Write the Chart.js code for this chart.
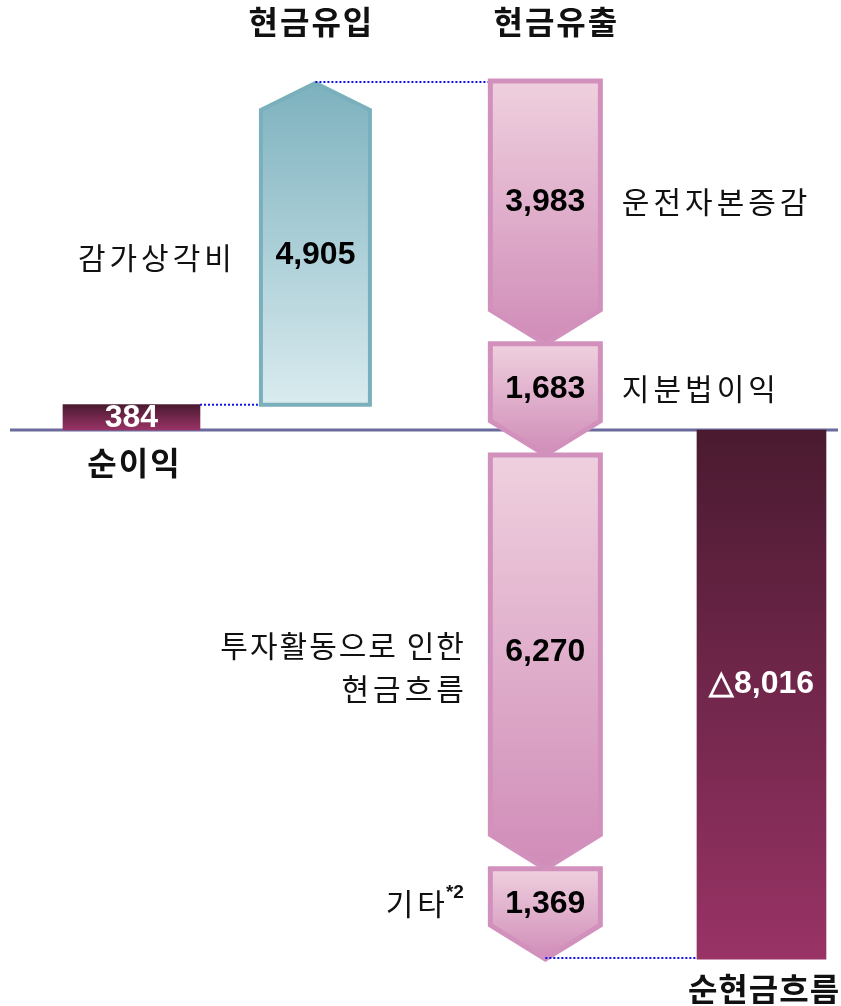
<!DOCTYPE html>
<html>
<head>
<meta charset="utf-8">
<script src="https://cdn.jsdelivr.net/npm/chart.js@4.4.1/dist/chart.umd.min.js"></script>
<style>
  html, body { margin: 0; padding: 0; background: #fff; }
  #wrap { width: 841px; height: 1006px; }
</style>
</head>
<body>
<div id="wrap"><canvas id="cashChart"></canvas></div>
<script>
// cash flow waterfall: 순이익 -> 유입 -> 유출 -> 순현금흐름
const columns = ['순이익', '현금유입', '현금유출', '순현금흐름'];
const items = ['순이익', '감가상각비', '운전자본증감', '지분법이익', '투자활동으로 인한\n현금흐름', '기타', '순현금흐름'];
const amounts = [384, 4905, -3983, -1683, -6270, -1369, -8016];
const valueLabels = ['384', '4,905', '3,983', '1,683', '6,270', '1,369', '△8,016'];
const itemColumn = [0, 1, 2, 2, 2, 2, 3];
const footnote = '*2';

// layout (not data): column slots on the hidden x scale, bar widths in px
const colSlot = [0, 40, 90, 137];
const barWidth = [137, 113, 115, 129];
const KR = '"Noto Sans CJK KR", "Noto Sans", sans-serif';
const NUM = '"Liberation Sans", Arial, sans-serif';

// running totals -> floating ranges, last item is the total from zero
let acc = 0;
const ranges = amounts.map((v, i) => {
  if (i === amounts.length - 1) return [0, v];
  const r = [acc, acc + v];
  acc += v;
  return r;
});

function darkGradient(chart, r) {
  const y = chart.scales.y;
  if (!y) return '#7a2a50';
  const top = y.getPixelForValue(Math.max(...r));
  const bot = y.getPixelForValue(Math.min(...r));
  if (!isFinite(top) || !isFinite(bot) || top === bot) return '#7a2a50';
  const g = chart.ctx.createLinearGradient(0, top, 0, bot);
  g.addColorStop(0, '#4a1a30');
  g.addColorStop(1, '#993366');
  return g;
}

function txt(ctx, s, x, y, font, color, align, spacing) {
  ctx.save();
  ctx.font = font;
  ctx.fillStyle = color;
  ctx.textAlign = align || 'center';
  ctx.textBaseline = 'middle';
  if (spacing) {
    ctx.letterSpacing = spacing + 'px';
    // canvas adds trailing spacing, shift so the glyphs stay where intended
    if (!align || align === 'center') x += spacing / 2;
    else if (align === 'right') x += spacing;
  }
  ctx.fillText(s, x, y);
  ctx.restore();
}

function dotted(ctx, x1, x2, y) {
  ctx.save();
  ctx.strokeStyle = '#1010ee';
  ctx.lineWidth = 2;
  ctx.setLineDash([2, 2]);
  ctx.beginPath();
  ctx.moveTo(x1, y);
  ctx.lineTo(x2, y);
  ctx.stroke();
  ctx.restore();
}

const arrowsPlugin = {
  id: 'arrows',
  beforeDatasetsDraw(chart) {
    const { ctx, chartArea, scales } = chart;
    const y0 = scales.y.getPixelForValue(0);
    ctx.save();
    ctx.strokeStyle = '#6a6a9c';
    ctx.lineWidth = 3;
    ctx.beginPath();
    ctx.moveTo(chartArea.left + 10, y0);
    ctx.lineTo(chartArea.right - 3, y0);
    ctx.stroke();
    ctx.restore();
  },
  afterDatasetsDraw(chart) {
    const { ctx, scales } = chart;
    const ys = scales.y;
    const el = i => chart.getDatasetMeta(i).data[0];
    const last = items.length - 1;

    // arrows for the middle steps
    for (let i = 1; i < last; i++) {
      const e = el(i);
      const up = amounts[i] > 0;
      const lw = up ? 4 : 5;
      const l = e.x - e.width / 2 + lw / 2, r = e.x + e.width / 2 - lw / 2;
      const yStart = ys.getPixelForValue(ranges[i][0]);
      const yEnd = ys.getPixelForValue(ranges[i][1]);
      const head = up ? 29 : 34;
      ctx.save();
      ctx.beginPath();
      if (up) {
        ctx.moveTo(l, yStart);
        ctx.lineTo(l, yEnd + head);
        ctx.lineTo(e.x, yEnd + lw / 2);
        ctx.lineTo(r, yEnd + head);
        ctx.lineTo(r, yStart);
      } else {
        ctx.moveTo(l, yStart);
        ctx.lineTo(r, yStart);
        ctx.lineTo(r, yEnd - head);
        ctx.lineTo(e.x, yEnd);
        ctx.lineTo(l, yEnd - head);
      }
      ctx.closePath();
      const g = ctx.createLinearGradient(0, Math.min(yStart, yEnd), 0, Math.max(yStart, yEnd));
      if (up) {
        g.addColorStop(0, '#7cb1be');
        g.addColorStop(1, '#d9ebef');
        ctx.strokeStyle = '#7aafbc';
      } else {
        g.addColorStop(0, '#efd0de');
        g.addColorStop(1, '#d08cb8');
        ctx.strokeStyle = '#d291bc';
      }
      ctx.fillStyle = g;
      ctx.fill();
      ctx.lineWidth = lw;
      ctx.lineJoin = 'miter';
      ctx.stroke();
      ctx.restore();
    }

    // dotted connectors
    const e0 = el(0), e1 = el(1), e2 = el(2), e5 = el(last - 1), eN = el(last);
    dotted(ctx, e0.x + e0.width / 2, e1.x - e1.width / 2, ys.getPixelForValue(ranges[0][1]));
    dotted(ctx, e1.x, e2.x - e2.width / 2, ys.getPixelForValue(ranges[1][1]) + 1);
    dotted(ctx, e5.x, eN.x - eN.width / 2, ys.getPixelForValue(ranges[last][1]) - 1);

    const headFont = 'bold 32px ' + KR;
    const valFont = 'bold 32px ' + NUM;
    const itemFont = '30px ' + KR;

    // column headers
    txt(ctx, columns[1], e1.x - 5, 22, headFont, '#111', 'center', 2);
    txt(ctx, columns[2], e2.x + 10, 22, headFont, '#111', 'center', 2);

    items.forEach((name, i) => {
      const e = el(i);
      const a = ys.getPixelForValue(ranges[i][0]);
      const b = ys.getPixelForValue(ranges[i][1]);
      let mid = (a + b) / 2;
      if (i > 0 && i < last) mid += amounts[i] > 0 ? 11 : -11;
      if (i === last) mid -= 11;
      const white = i === 0 || i === last;
      txt(ctx, valueLabels[i], e.x, mid + 1, valFont, white ? '#fff' : '#000');

      const left = e.x - e.width / 2, right = e.x + e.width / 2;
      if (i === 0) {
        txt(ctx, name, e.x + 2, ys.getPixelForValue(0) + 33, headFont, '#111', 'center', 2);
      } else if (i === last) {
        txt(ctx, name, e.x + 2, b + 30, headFont, '#111', 'center', 1);
      } else if (i === 1) {
        txt(ctx, name, left - 27, mid + 4, itemFont, '#111', 'right', 4);
      } else if (i === 2 || i === 3) {
        txt(ctx, name, right + 19, mid, itemFont, '#111', 'left', 4);
      } else if (i === 4) {
        const lines = name.split('\n');
        txt(ctx, lines[0], left - 24, mid - 5, itemFont, '#111', 'right', 2);
        txt(ctx, lines[1], left - 24, mid + 38, itemFont, '#111', 'right', 4);
      } else if (i === 5) {
        const fnFont = 'bold 19px ' + NUM;
        ctx.save();
        ctx.font = fnFont;
        const fw = ctx.measureText(footnote).width;
        ctx.restore();
        txt(ctx, footnote, left - 24, mid - 10, fnFont, '#111', 'right');
        txt(ctx, name, left - 24 - fw - 1, mid + 1, itemFont, '#111', 'right', 4);
      }
    });
  }
};

const datasets = items.map((name, i) => ({
  label: name,
  data: [{ x: colSlot[itemColumn[i]], y: ranges[i] }],
  grouped: false,
  barThickness: barWidth[itemColumn[i]],
  backgroundColor: (i === 0 || i === items.length - 1)
    ? ctx => darkGradient(ctx.chart, ranges[i])
    : 'rgba(0,0,0,0)',
  borderWidth: 0
}));

new Chart(document.getElementById('cashChart'), {
  type: 'bar',
  data: { datasets },
  options: {
    responsive: true,
    maintainAspectRatio: false,
    animation: false,
    devicePixelRatio: 1,
    layout: { padding: 0 },
    plugins: { legend: { display: false }, tooltip: { enabled: false } },
    scales: {
      x: { type: 'linear', offset: false, min: -28.59, max: 154.29, display: false },
      y: { min: -8727, max: 6515, display: false }
    }
  },
  plugins: [arrowsPlugin]
});
</script>
</body>
</html>
